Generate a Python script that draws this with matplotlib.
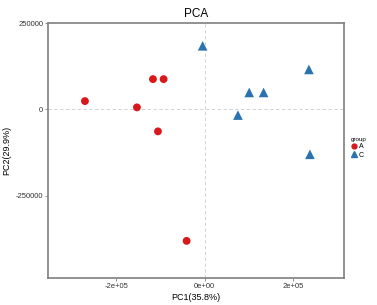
import matplotlib
matplotlib.use("Agg")
import matplotlib.pyplot as plt
from matplotlib.lines import Line2D

plt.rcParams['font.family'] = ['Liberation Sans', 'DejaVu Sans']

groups = ["A", "C"]
pc1_a = [-270500, -153000, -116800, -92700, -105500, -40700]
pc2_a = [24000, 5800, 87600, 87600, -63600, -380600]
pc1_c = [-4500, 235700, 100800, 133300, 75300, 238000]
pc2_c = [184000, 115600, 49000, 49000, -16500, -130000]
xticks = [-200000, 0, 200000]
xtick_labels = ["-2e+05", "0e+00", "2e+05"]
yticks = [-250000, 0, 250000]
ytick_labels = ["-250000", "0", "250000"]

red = "#d7191c"
blue = "#2b73b0"
frame = "#7f7f7f"

fig = plt.figure(figsize=(3.77, 3.05), dpi=100)
ax = fig.add_axes([48 / 377, 1 - 278 / 305, (344 - 48) / 377, (278 - 23) / 305])

ax.axhline(0, color="#cccccc", lw=0.6, ls=(0, (4, 3)), zorder=1)
ax.axvline(0, color="#cccccc", lw=0.6, ls=(0, (4, 3)), zorder=1)

ax.scatter(pc1_a, pc2_a, s=32, marker="o", color=red, edgecolors="none", zorder=3)
ax.scatter(pc1_c, pc2_c, s=48, marker="^", color=blue, edgecolors="none", zorder=3)

ax.set_xlim(-354000, 315000)
ax.set_ylim(-488000, 250000)
ax.set_xticks(xticks)
ax.set_xticklabels(xtick_labels)
ax.set_yticks(yticks)
ax.set_yticklabels(ytick_labels)
ax.tick_params(labelsize=5.5, length=2, width=0.6, color=frame, labelcolor="#333333", pad=1.5)

for s in ax.spines.values():
    s.set_color(frame)
    s.set_linewidth(1.2)

ax.set_title("PCA", fontsize=8.5, pad=4)
ax.set_xlabel("PC1(35.8%)", fontsize=6.5, labelpad=2)
ax.set_ylabel("PC2(29.9%)", fontsize=6.5, labelpad=3)

handles = [Line2D([], [], marker="o", color=red, ls="none", markersize=3.5),
           Line2D([], [], marker="^", color=blue, ls="none", markersize=4)]
leg = fig.legend(handles, groups, title="group", loc="center left",
                 bbox_to_anchor=(347 / 377, 1 - 148 / 305), frameon=False,
                 fontsize=5, title_fontsize=4.5, handletextpad=0.2,
                 handlelength=1, borderpad=0, labelspacing=0.2)
leg._legend_box.align = "left"

fig.savefig("out.png", dpi=100)
